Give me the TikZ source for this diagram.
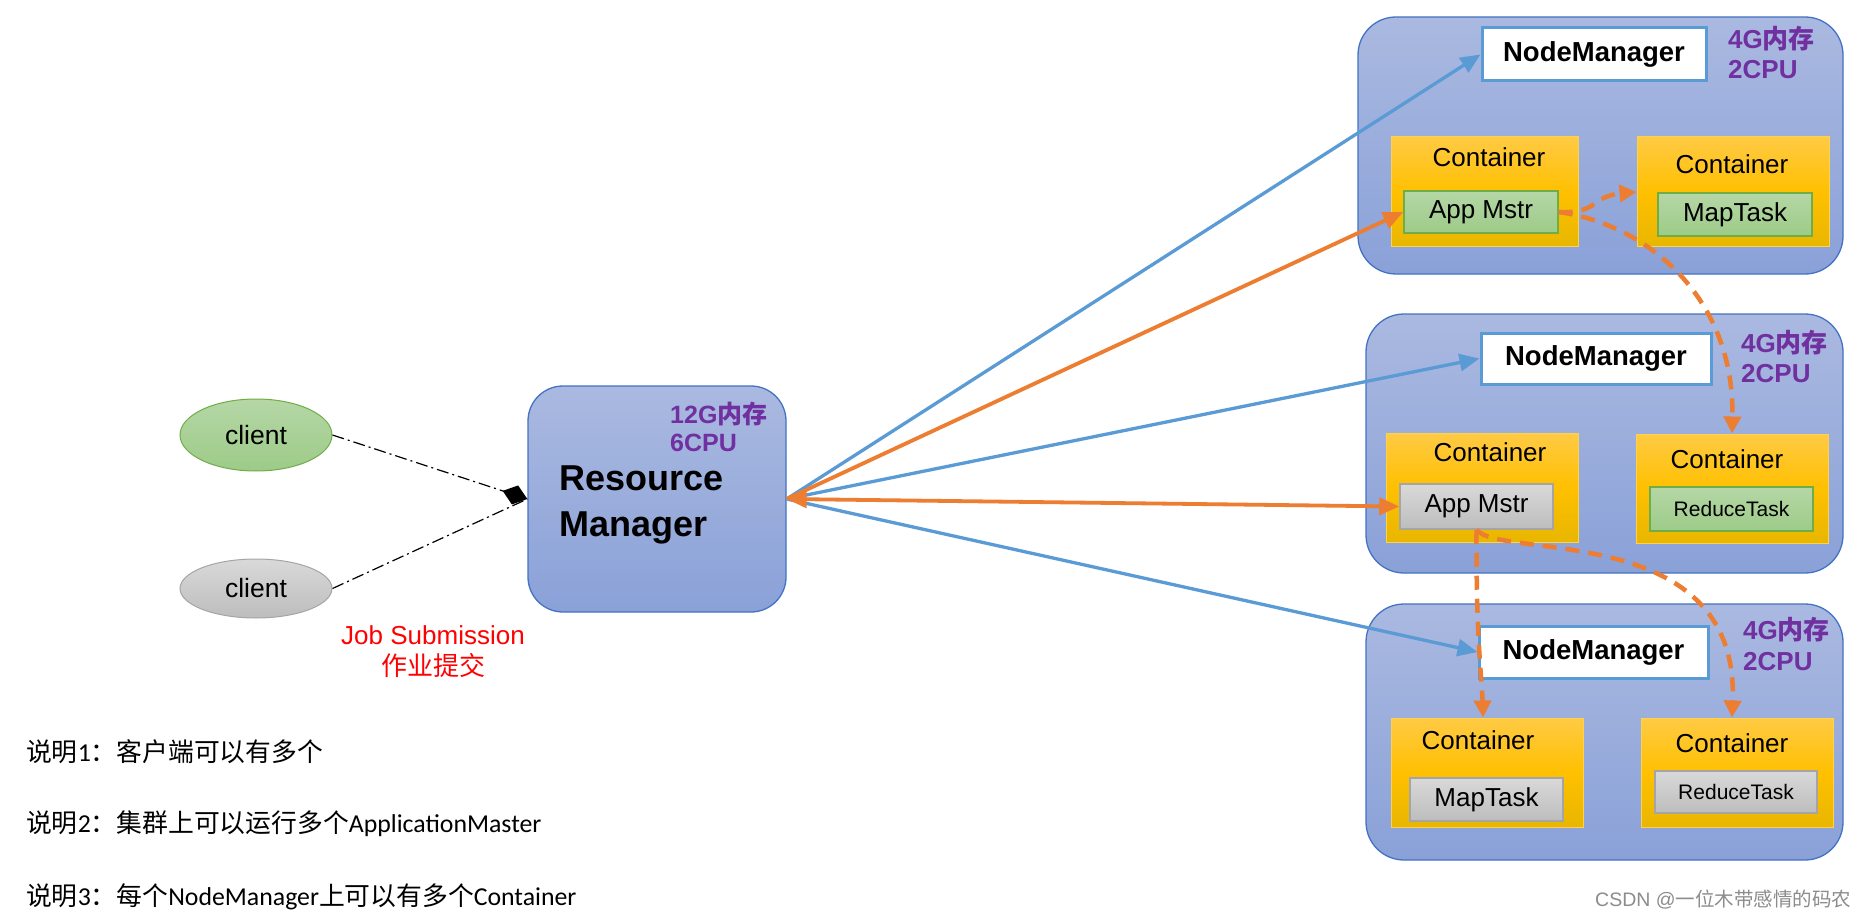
\documentclass[tikz,border=0pt]{standalone}
\usepackage{fontspec}
\setmainfont{Liberation Sans}
\newfontfamily\cjk{Noto Sans CJK SC}
\newfontfamily\calfont{Carlito}
\usetikzlibrary{arrows.meta,shapes.geometric}
\definecolor{bluel}{HTML}{5B9BD5}
\definecolor{orangel}{HTML}{ED7D31}
\definecolor{purp}{HTML}{7030A0}
\definecolor{boxborder}{HTML}{4472C4}
\definecolor{boxtop}{HTML}{AAB9E0}
\definecolor{boxbot}{HTML}{8AA1D8}
\definecolor{ctop}{HTML}{FFCA45}
\definecolor{cmid}{HTML}{FFC000}
\definecolor{cbot}{HTML}{E8B600}
\definecolor{cborder}{HTML}{FFD24D}
\definecolor{gtop}{HTML}{B5D7A6}
\definecolor{gbot}{HTML}{9DCB88}
\definecolor{gborder}{HTML}{70AD47}
\definecolor{graytop}{HTML}{D9D9D9}
\definecolor{graybot}{HTML}{BDBDBD}
\definecolor{grayborder}{HTML}{A5A5A5}
\definecolor{wmgray}{HTML}{8C8C8C}
\begin{document}
\begin{tikzpicture}[x=1pt,y=-1pt,
  bigbox/.style={draw=boxborder, line width=1.3pt, rounded corners=38pt, top color=boxtop, bottom color=boxbot, inner sep=0pt},
  nmbox/.style={draw=bluel, line width=3pt, fill=white, inner sep=0pt, font=\fontsize{27.5}{30}\selectfont\bfseries},
  cbox/.style={draw=cborder, line width=1pt, top color=ctop, bottom color=cbot, middle color=cmid, inner sep=0pt},
  greenbox/.style={draw=gborder, line width=1.5pt, top color=gtop, bottom color=gbot, inner sep=0pt},
  graybox/.style={draw=grayborder, line width=1.5pt, top color=graytop, bottom color=graybot, inner sep=0pt},
  lbl/.style={font=\fontsize{26}{30}\selectfont, inner sep=0pt},
  smalllbl/.style={font=\fontsize{21}{25}\selectfont, inner sep=0pt},
  purplbl/.style={text=purp, font=\fontsize{26}{30}\selectfont\bfseries, inner sep=0pt, anchor=base west},
  rmlbl/.style={font=\fontsize{36}{40}\selectfont\bfseries, inner sep=0pt, anchor=base west},
  clientnode/.style={ellipse, line width=1pt, inner sep=0pt, minimum width=152pt, font=\fontsize{26.5}{30}\selectfont},
  note/.style={font=\calfont\fontsize{25.8}{30}\selectfont, inner sep=0pt, anchor=west},
  blueline/.style={draw=bluel, line width=3.3pt, -{Triangle[length=20pt,width=17pt]}},
  orangeline/.style={draw=orangel, line width=3.8pt, -{Triangle[length=20pt,width=17pt]}},
  orangedash/.style={draw=orangel, line width=4.5pt, dash pattern=on 14pt off 9pt, -{Triangle[length=17pt,width=17pt]}},
  clientline/.style={draw=black, line width=1.2pt, dash pattern=on 12pt off 4pt on 2pt off 4pt}
]
\fill[white] (0,0) rectangle (1861,920);
\useasboundingbox (0,0) rectangle (1861,920);

% clients
\node[clientnode, draw=gborder, top color=gtop, bottom color=gbot, minimum height=72pt] (cl1) at (256,435) {client};
\node[clientnode, draw=grayborder, top color=graytop, bottom color=graybot, minimum height=59pt] (cl2) at (256,588.5) {client};
\node[text=red, font=\fontsize{26}{31}\selectfont, align=center, inner sep=0pt] (job) at (433,652) {Job Submission\\{\cjk 作业提交}};

% resource manager
\node[bigbox, rounded corners=35pt, minimum width=258pt, minimum height=226pt] (rm) at (657,499) {};
\node[purplbl, font=\fontsize{25}{28}\selectfont\bfseries] (rmmem) at (670,423) {12G{\cjk 内存}};
\node[purplbl, font=\fontsize{25}{28}\selectfont\bfseries] (rmcpu) at (670,451) {6CPU};
\node[rmlbl] (rmt1) at (559,490) {Resource};
\node[rmlbl] (rmt2) at (559,536) {Manager};

% node manager 1
\node[bigbox, minimum width=485pt, minimum height=257pt] (box1) at (1600.5,145.5) {};
\node[nmbox, minimum width=224pt, minimum height=53pt] (nm1) at (1594,54.5) {NodeManager};
\node[purplbl] (mem1) at (1728,49) {4G{\cjk 内存}};
\node[purplbl] (cpu1) at (1728,79) {2CPU};
\node[cbox, minimum width=187pt, minimum height=110pt] (c1) at (1484.5,192) {};
\node[lbl] (c1t) at (1489,157) {Container};
\node[greenbox, lbl, minimum width=154pt, minimum height=42pt] (am1) at (1481,212) {App Mstr};
\node[cbox, minimum width=192pt, minimum height=110pt] (c2) at (1733,192) {};
\node[lbl] (c2t) at (1732,164) {Container};
\node[greenbox, lbl, minimum width=154pt, minimum height=43pt] (mt1) at (1735,214.5) {MapTask};

% node manager 2
\node[bigbox, minimum width=477pt, minimum height=259pt] (box2) at (1604.5,443.5) {};
\node[nmbox, minimum width=230pt, minimum height=51pt] (nm2) at (1596,358.5) {NodeManager};
\node[purplbl] (mem2) at (1741,352) {4G{\cjk 内存}};
\node[purplbl] (cpu2) at (1741,382) {2CPU};
\node[cbox, minimum width=192pt, minimum height=109pt] (c3) at (1482,487.5) {};
\node[lbl] (c3t) at (1490,452) {Container};
\node[graybox, lbl, minimum width=153pt, minimum height=45pt] (am2) at (1476.5,506.5) {App Mstr};
\node[cbox, minimum width=192pt, minimum height=109pt] (c4) at (1732,488.5) {};
\node[lbl] (c4t) at (1727,459) {Container};
\node[greenbox, smalllbl, minimum width=163pt, minimum height=44pt] (rt1) at (1731.5,509) {ReduceTask};

% node manager 3
\node[bigbox, minimum width=477pt, minimum height=256pt] (box3) at (1604.5,732) {};
\node[nmbox, minimum width=229pt, minimum height=52pt] (nm3) at (1593.5,652) {NodeManager};
\node[purplbl] (mem3) at (1743,639) {4G{\cjk 内存}};
\node[purplbl] (cpu3) at (1743,670) {2CPU};
\node[cbox, minimum width=192pt, minimum height=109pt] (c5) at (1487,772.5) {};
\node[lbl] (c5t) at (1478,740) {Container};
\node[graybox, lbl, minimum width=153pt, minimum height=43pt] (mt2) at (1486.5,799.5) {MapTask};
\node[cbox, minimum width=192pt, minimum height=109pt] (c6) at (1737,772.5) {};
\node[lbl] (c6t) at (1732,743) {Container};
\node[graybox, smalllbl, minimum width=162pt, minimum height=42pt] (rt2) at (1736,792) {ReduceTask};

% client connectors
\draw[clientline] (cl2.east) -- (rm.west);
\draw[clientline, -{Diamond[length=26pt,width=20pt,line width=0pt]}] (cl1.east) -- (rm.west);

% RM connectors
\draw[blueline] (rm.east) -- (nm1.west);
\draw[blueline] (rm.east) -- (nm2.west);
\draw[blueline] (rm.east) -- (nm3.west);
\draw[orangeline] (rm.east) -- (am1.west);
\draw[orangeline, {Triangle[length=20pt,width=17pt]}-{Triangle[length=20pt,width=17pt]}] (rm.east) -- (am2.west);

% app master connectors
\draw[orangedash] (am1.east) .. controls (1598,214) and (1592,196) .. (c2.west);
\draw[orangedash] (am1.east) .. controls (1650,225) and (1735,300) .. (c4.north);
\draw[orangedash] (am2.south) .. controls (1476,640) and (1482,680) .. ([xshift=-4pt]c5.north);
\draw[orangedash] (am2.south) .. controls (1500,560) and (1740,520) .. ([xshift=-5pt]c6.north);

% notes
\node[note] (n1) at (26,752) {{\cjk 说明}1{\cjk ：客户端可以有多个}};
\node[note] (n2) at (26,824) {{\cjk 说明}2{\cjk ：集群上可以运行多个}ApplicationMaster};
\node[note] (n3) at (26,897) {{\cjk 说明}3{\cjk ：每个}NodeManager{\cjk 上可以有多个}Container};
\node[text=wmgray, font=\fontsize{19.5}{24}\selectfont, inner sep=0pt, anchor=west] (wm) at (1595,900) {CSDN @{\cjk 一位木带感情的码农}};
\end{tikzpicture}
\end{document}
